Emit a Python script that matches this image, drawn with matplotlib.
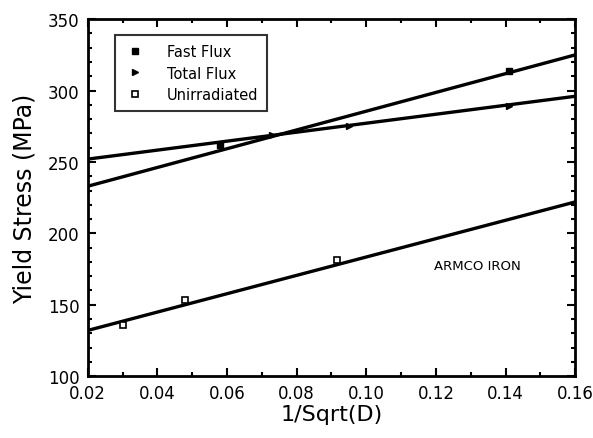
import numpy as np
import matplotlib.pyplot as plt
from matplotlib.ticker import MultipleLocator

# ---------------------------------------------------------------
# Data
# ---------------------------------------------------------------
fast_x = [0.058, 0.141]
fast_y = [262, 314]
total_x = [0.073, 0.095, 0.141]
total_y = [269, 275, 289]
unirr_x = [0.030, 0.048, 0.0915]
unirr_y = [136, 153, 181]

# fitted lines (end points at x = 0.02 and x = 0.16)
fit_x = [0.02, 0.16]
fast_fit = [233, 325]
total_fit = [252, 296]
unirr_fit = [132, 222]

plt.rcParams['font.family'] = ['DejaVu Sans']

fig = plt.figure(figsize=(5.93, 4.39), dpi=100)
ax = fig.add_axes([0.148, 0.141, 0.822, 0.813])

ax.plot(fit_x, fast_fit, color='black', lw=2.4)
ax.plot(fit_x, total_fit, color='black', lw=2.4)
ax.plot(fit_x, unirr_fit, color='black', lw=2.4)

ax.plot(fast_x, fast_y, ls='none', marker='s', ms=4, color='black', label='Fast Flux')
ax.plot(total_x, total_y, ls='none', marker='>', ms=4, color='black', label='Total Flux')
ax.plot(unirr_x, unirr_y, ls='none', marker='s', ms=5, mfc='white', mec='black',
        mew=1.2, label='Unirradiated')

ax.set_xlim(0.02, 0.16)
ax.set_ylim(100, 350)
ax.xaxis.set_major_locator(MultipleLocator(0.02))
ax.xaxis.set_minor_locator(MultipleLocator(0.01))
ax.yaxis.set_major_locator(MultipleLocator(50))
ax.yaxis.set_minor_locator(MultipleLocator(10))
ax.tick_params(which='both', direction='in', top=True, right=True, width=1.5)
ax.tick_params(which='major', length=6, labelsize=12)
ax.tick_params(which='minor', length=3)
ax.tick_params(axis='x', which='major', pad=6)
ax.tick_params(axis='y', which='major', pad=6)
ax.set_xticks(np.arange(0.02, 0.161, 0.02))
ax.set_xticklabels(['0.02', '0.04', '0.06', '0.08', '0.10', '0.12', '0.14', '0.16'])
for s in ax.spines.values():
    s.set_linewidth(2)

ax.set_xlabel('1/Sqrt(D)', fontsize=16, labelpad=1)
ax.set_ylabel('Yield Stress (MPa)', fontsize=17, labelpad=8)

leg = ax.legend(loc='upper left', bbox_to_anchor=(0.055, 0.955), borderaxespad=0,
                fontsize=10.5, frameon=True, fancybox=False, edgecolor='black',
                handletextpad=1.4, borderpad=0.6, labelspacing=0.45,
                handlelength=1.6)
leg.get_frame().set_linewidth(1.5)

ax.text(0.1195, 175, 'ARMCO IRON', fontsize=9.5)

fig.savefig('out.png', dpi=100)
